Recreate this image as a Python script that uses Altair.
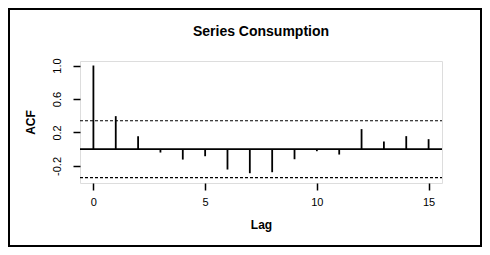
import altair as alt
import pandas as pd

title_text = ["Series Consumption"]
lags = list(range(16))
acf_values = [1.0, 0.395, 0.156, -0.04, -0.124, -0.084, -0.243, -0.287,
              -0.275, -0.12, -0.024, -0.064, 0.24, 0.092, 0.156, 0.12]
conf_limit = [0.34]
x_tick_values = [0, 5, 10, 15]
y_tick_values = [-0.2, 0.0, 0.2, 0.4, 0.6, 0.8, 1.0]
y_tick_labels = ["-0.2", "", "0.2", "", "0.6", "", "1.0"]

df = pd.DataFrame({"lag": lags, "acf": acf_values, "zero": [0.0] * len(lags)})
ci = pd.DataFrame({"y": [conf_limit[0], -conf_limit[0]]})
tdf = pd.DataFrame({"t": title_text})

font = "Liberation Sans"

expr = "''"
for v, lab in reversed(list(zip(y_tick_values, y_tick_labels))):
    expr = f"(abs(datum.value - ({v})) < 1e-6 ? '{lab}' : {expr})"

xscale = alt.Scale(domain=[-0.6, 15.6], nice=False, zero=False)
yscale = alt.Scale(domain=[-0.404, 1.054], nice=False, zero=False)

bars = alt.Chart(df).mark_rule(color="black", strokeWidth=1.8).encode(
    x=alt.X("lag:Q", scale=xscale,
            axis=alt.Axis(values=x_tick_values, title="Lag", domain=False,
                          grid=False, tickSize=7, tickWidth=1.5, tickColor="black",
                          labelFont=font, labelFontSize=11, labelColor="black",
                          labelPadding=6, titleFont=font, titleFontSize=12,
                          titleFontWeight="bold", titleColor="black", titlePadding=12)),
    y=alt.Y("acf:Q", scale=yscale,
            axis=alt.Axis(values=y_tick_values, labelExpr=expr, title="ACF",
                          domain=False, grid=False, tickSize=7, tickWidth=1.5,
                          tickColor="black", labelFont=font, labelFontSize=11,
                          labelColor="black", labelAngle=270, labelAlign="center",
                          labelBaseline="bottom", labelPadding=11,
                          titleFont=font, titleFontSize=12, titleFontWeight="bold",
                          titleColor="black", titlePadding=14)),
    y2="zero:Q",
)

zero_line = alt.Chart(ci).mark_rule(color="black", strokeWidth=1.5).encode(
    y=alt.datum(0, scale=yscale),
    x=alt.value(0), x2=alt.value(362),
)

ci_lines = alt.Chart(ci).mark_rule(color="black", strokeWidth=1.2, strokeDash=[3, 2]).encode(
    y=alt.Y("y:Q", scale=yscale),
    x=alt.value(0), x2=alt.value(362),
)

frame = alt.Chart(ci).mark_rect(fill=None, stroke="black", strokeWidth=2).encode(
    x=alt.value(-71), x2=alt.value(401), y=alt.value(-52), y2=alt.value(185),
)

title = alt.Chart(tdf).mark_text(font=font, fontSize=14, fontWeight="bold",
                                 color="black", baseline="middle", align="center").encode(
    text="t:N", x=alt.value(181), y=alt.value(-29),
)

chart = alt.layer(frame, ci_lines, zero_line, bars, title).properties(
    width=362, height=122,
    padding={"left": 72, "top": 53, "right": 40, "bottom": 64},
    autosize=alt.AutoSizeParams(type="none"),
).configure_view(stroke="black", strokeWidth=1.5).configure(background="white")

chart.save("out.html", embed_options={"renderer": "svg", "actions": False})
